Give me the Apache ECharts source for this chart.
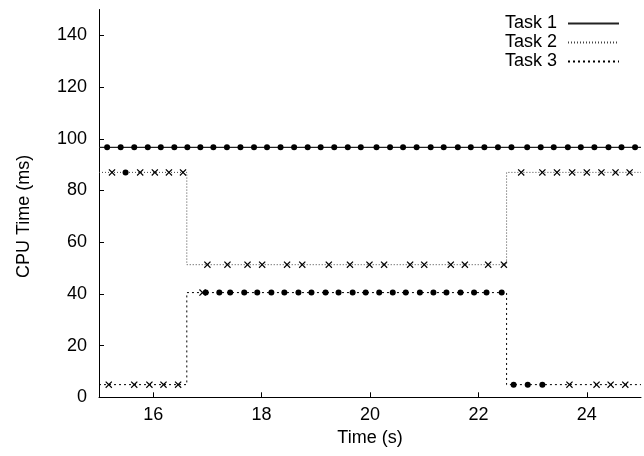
<!DOCTYPE html>
<html><head><meta charset="utf-8">
<script src="https://cdn.jsdelivr.net/npm/echarts@6/dist/echarts.min.js"></script>
<style>html,body{margin:0;padding:0;background:#fff}#c{width:644px;height:456px}</style>
</head><body><div id="c"></div>
<script>
const seriesNames = ['Task 1', 'Task 2', 'Task 3'];
const xTicks = [16, 18, 20, 22, 24];
const yTicks = [0, 20, 40, 60, 80, 100, 120, 140];

// marks: 'o' = filled dot, 'x' = cross, '-' = no marker
const task1Time = [15.0, 15.15, 15.40, 15.65, 15.90, 16.14, 16.39, 16.63, 16.87, 17.11, 17.36, 17.61, 17.86, 18.10, 18.35, 18.60, 18.85, 19.09, 19.34, 19.59, 19.83, 20.12, 20.37, 20.61, 20.86, 21.12, 21.36, 21.62, 21.86, 22.11, 22.36, 22.61, 22.90, 23.15, 23.39, 23.65, 23.89, 24.14, 24.40, 24.64, 24.89, 25.0];
const task1Value = [96.7, 96.7, 96.7, 96.7, 96.7, 96.7, 96.7, 96.7, 96.7, 96.7, 96.7, 96.7, 96.7, 96.7, 96.7, 96.7, 96.7, 96.7, 96.7, 96.7, 96.7, 96.7, 96.7, 96.7, 96.7, 96.7, 96.7, 96.7, 96.7, 96.7, 96.7, 96.7, 96.7, 96.7, 96.7, 96.7, 96.7, 96.7, 96.7, 96.7, 96.7, 96.7];
const task1Mark = ['-', 'o', 'o', 'o', 'o', 'o', 'o', 'o', 'o', 'o', 'o', 'o', 'o', 'o', 'o', 'o', 'o', 'o', 'o', 'o', 'o', 'o', 'o', 'o', 'o', 'o', 'o', 'o', 'o', 'o', 'o', 'o', 'o', 'o', 'o', 'o', 'o', 'o', 'o', 'o', 'o', '-'];

const task2Time = [15.0, 15.24, 15.49, 15.76, 16.03, 16.29, 16.55, 16.62, 16.62, 17.00, 17.37, 17.74, 18.01, 18.47, 18.75, 19.24, 19.63, 19.99, 20.26, 20.74, 21.00, 21.49, 21.75, 22.18, 22.47, 22.52, 22.52, 22.79, 23.18, 23.45, 23.73, 24.00, 24.27, 24.53, 24.79, 25.0];
const task2Value = [87.0, 87.0, 87.0, 87.0, 87.0, 87.0, 87.0, 87.0, 51.3, 51.3, 51.3, 51.3, 51.3, 51.3, 51.3, 51.3, 51.3, 51.3, 51.3, 51.3, 51.3, 51.3, 51.3, 51.3, 51.3, 51.3, 87.0, 87.0, 87.0, 87.0, 87.0, 87.0, 87.0, 87.0, 87.0, 87.0];
const task2Mark = ['-', 'x', 'o', 'x', 'x', 'x', 'x', '-', '-', 'x', 'x', 'x', 'x', 'x', 'x', 'x', 'x', 'x', 'x', 'x', 'x', 'x', 'x', 'x', 'x', '-', '-', 'x', 'x', 'x', 'x', 'x', 'x', 'x', 'x', '-'];

const task3Time = [15.0, 15.18, 15.65, 15.93, 16.19, 16.46, 16.62, 16.62, 16.91, 16.97, 17.22, 17.42, 17.68, 17.92, 18.18, 18.42, 18.68, 18.92, 19.18, 19.42, 19.68, 19.92, 20.17, 20.42, 20.66, 20.92, 21.17, 21.41, 21.67, 21.92, 22.15, 22.43, 22.52, 22.52, 22.65, 22.91, 23.18, 23.68, 24.18, 24.44, 24.71, 25.0];
const task3Value = [4.9, 4.9, 4.9, 4.9, 4.9, 4.9, 4.9, 40.5, 40.5, 40.5, 40.5, 40.5, 40.5, 40.5, 40.5, 40.5, 40.5, 40.5, 40.5, 40.5, 40.5, 40.5, 40.5, 40.5, 40.5, 40.5, 40.5, 40.5, 40.5, 40.5, 40.5, 40.5, 40.5, 4.9, 4.9, 4.9, 4.9, 4.9, 4.9, 4.9, 4.9, 4.9];
const task3Mark = ['-', 'x', 'x', 'x', 'x', 'x', '-', '-', 'x', 'o', 'o', 'o', 'o', 'o', 'o', 'o', 'o', 'o', 'o', 'o', 'o', 'o', 'o', 'o', 'o', 'o', 'o', 'o', 'o', 'o', 'o', 'o', '-', '-', 'o', 'o', 'o', 'x', 'x', 'x', 'x', '-'];

const CROSS = 'path://M0,1.2L1.2,0L5,3.8L8.8,0L10,1.2L6.2,5L10,8.8L8.8,10L5,6.2L1.2,10L0,8.8L3.8,5Z';
const FONT = "'Liberation Sans', Arial, Helvetica, sans-serif";

function build(times, values, marks) {
  return times.map((t, i) => {
    const m = marks[i];
    return {
      value: [t, values[i]],
      symbol: m === 'o' ? 'circle' : (m === 'x' ? CROSS : 'none'),
      symbolSize: m === 'o' ? 6 : 7
    };
  });
}

const chart = echarts.init(document.getElementById('c'), null, {renderer: 'canvas'});
chart.setOption({
  animation: false,
  backgroundColor: '#fff',
  textStyle: {fontFamily: FONT, color: '#000'},
  grid: {left: 99, right: 3, top: 9.5, bottom: 58.7, containLabel: false},
  legend: {
    data: seriesNames,
    orient: 'vertical',
    right: 19,
    top: 9,
    align: 'right',
    itemWidth: 51,
    itemHeight: 12,
    itemGap: 0,
    selectedMode: false,
    itemStyle: {opacity: 0, color: 'rgba(0,0,0,0)', borderWidth: 0},
    textStyle: {fontSize: 18, lineHeight: 19, color: '#000', fontFamily: FONT, padding: [0, 6, 0, 0]}
  },
  xAxis: {
    type: 'value', min: 15, max: 25,
    name: 'Time (s)', nameLocation: 'middle', nameGap: 32,
    nameTextStyle: {fontSize: 18, color: '#000', fontFamily: FONT},
    axisLine: {show: true, onZero: false, lineStyle: {color: '#000', width: 1}},
    axisTick: {show: true, inside: true, length: 5, customValues: xTicks, lineStyle: {color: '#000'}},
    axisLabel: {customValues: xTicks, fontSize: 18, color: '#000', margin: 9, fontFamily: FONT},
    splitLine: {show: false}
  },
  yAxis: {
    type: 'value', min: 0, max: 150,
    name: 'CPU Time (ms)', nameLocation: 'middle', nameGap: 66,
    nameTextStyle: {fontSize: 18, color: '#000', fontFamily: FONT, padding: [0, 26, 0, 0]},
    axisLine: {show: true, onZero: false, lineStyle: {color: '#000', width: 1}},
    axisTick: {show: true, inside: true, length: 5, customValues: yTicks, lineStyle: {color: '#000'}},
    axisLabel: {customValues: yTicks, fontSize: 18, color: '#000', margin: 12, fontFamily: FONT},
    splitLine: {show: false}
  },
  series: [
    {
      name: seriesNames[0], type: 'line', symbol: 'none', showSymbol: true, clip: true,
      lineStyle: {color: '#222', width: 1.3, type: 'solid'},
      itemStyle: {color: '#000'},
      data: build(task1Time, task1Value, task1Mark), z: 3
    },
    {
      name: seriesNames[1], type: 'line', symbol: 'none', showSymbol: true, clip: true,
      lineStyle: {color: '#444', width: 1, type: [1, 2]},
      itemStyle: {color: '#000'},
      data: build(task2Time, task2Value, task2Mark), z: 2
    },
    {
      name: seriesNames[2], type: 'line', symbol: 'none', showSymbol: true, clip: true,
      lineStyle: {color: '#000', width: 1, type: [2, 3]},
      itemStyle: {color: '#000'},
      data: build(task3Time, task3Value, task3Mark), z: 2
    }
  ]
});
</script>
</body></html>
